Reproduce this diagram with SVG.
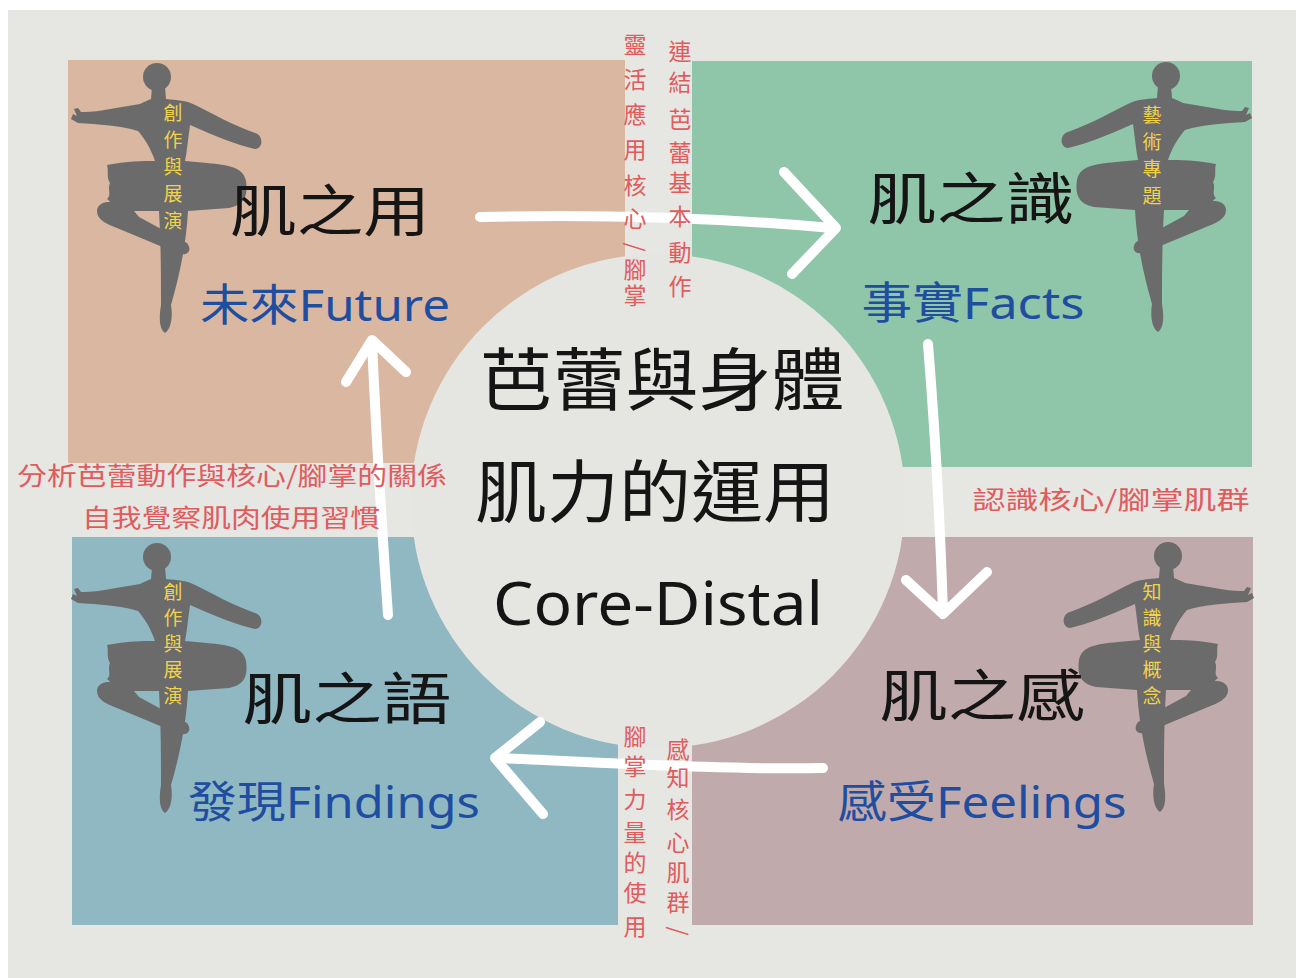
<svg xmlns="http://www.w3.org/2000/svg" xmlns:xlink="http://www.w3.org/1999/xlink" width="1296" height="978" viewBox="0 0 1296 978">
  <style>
    .title { font-family: "Noto Sans CJK TC", sans-serif; font-size: 56px; fill: #151515; text-anchor: middle; }
    .sub { font-family: "Noto Sans", "Noto Sans CJK TC", sans-serif; font-size: 44px; fill: #1f4ea0; text-anchor: middle; }
    .center { font-family: "Noto Sans CJK TC", sans-serif; font-size: 68px; fill: #151515; text-anchor: middle; }
    .latin { font-family: "Noto Sans", sans-serif; font-size: 60px; fill: #151515; text-anchor: middle; }
    .red { font-family: "Noto Sans CJK TC", sans-serif; font-size: 25px; fill: #e05b5e; text-anchor: middle; }
    .redv { font-family: "Noto Sans CJK TC", sans-serif; font-size: 23px; fill: #e05b5e; text-anchor: middle; }
    .yellow { font-family: "Noto Sans CJK TC", sans-serif; font-size: 19px; fill: #f1d34a; text-anchor: middle; }
    .arrow { fill: none; stroke: #ffffff; stroke-width: 10; stroke-linecap: round; stroke-linejoin: round; }
  </style>
  <defs>
    <!-- ballerina silhouette, facing right, origin at head centre -->
    <g id="dancer" fill="#6b6b6b">
      <ellipse cx="0" cy="0" rx="14" ry="14"/>
      <path d="M -8,10 L -9,22 C -20,23 -30,24 -36,27 C -55,36 -75,48 -98,56 C -106,58 -107,71 -98,72 C -80,68 -60,60 -33,48 C -31,62 -30,74 -28,84 L -50,86 C -72,88 -86,90 -89,104 C -91,118 -88,128 -72,131 L -31,134 C -29,170 -22,200 -14,228 C -16,240 -14,252 -8,256 C -2,252 -2,240 -4,228 C -4,200 -4,170 -2,134 L 38,134 C 46,130 44,126 50,122 C 45,118 50,112 47,106 C 51,100 48,94 50,88 C 30,84 14,84 2,84 C 6,72 12,62 19,54 C 34,49 60,47 79,46 L 86,42 L 84,37 L 80,39 L 83,32 L 79,31 L 76,35 C 62,36 38,30 17,27 C 13,25 9,23 6,22 L 5,10 Z"/>
      <path d="M 28,128 C 45,122 60,124 60,134 C 60,143 50,147 40,151 L -20,176 C -30,180 -36,174 -30,166 L 18,140 Z"/>
    </g>
  </defs>

  <!-- page -->
  <rect x="0" y="0" width="1296" height="978" fill="#ffffff"/>
  <rect x="8" y="10" width="1288" height="968" fill="#e6e6e2"/>

  <!-- quadrant panels -->
  <rect x="68" y="60" width="557" height="403" fill="#d9b7a0"/>
  <rect x="692" y="61" width="560" height="406" fill="#8fc5a9"/>
  <rect x="72" y="537" width="546" height="388" fill="#8fb8c3"/>
  <rect x="692" y="537" width="561" height="388" fill="#c1aaab"/>

  <!-- central disc -->
  <g id="core">
    <circle cx="658" cy="501" r="247" fill="#e5e5e1"/>
    <text class="center" x="662" y="405" textLength="365" lengthAdjust="spacingAndGlyphs">芭蕾與身體</text>
    <text class="center" x="655" y="517" textLength="360" lengthAdjust="spacingAndGlyphs">肌力的運用</text>
    <text class="latin" x="658" y="625" textLength="330" lengthAdjust="spacingAndGlyphs">Core-Distal</text>
  </g>

  <!-- quadrant nodes -->
  <g id="node-use">
    <use xlink:href="#dancer" href="#dancer" transform="translate(157,77) scale(-1,1)"/>
    <text class="yellow"><tspan x="173" y="120">創</tspan><tspan x="173" y="147">作</tspan><tspan x="173" y="174">與</tspan><tspan x="173" y="201">展</tspan><tspan x="173" y="228">演</tspan></text>
    <text class="title" x="330" y="231" textLength="200" lengthAdjust="spacingAndGlyphs">肌之用</text>
    <text class="sub" x="325" y="321" textLength="250" lengthAdjust="spacingAndGlyphs">未來Future</text>
  </g>

  <g id="node-know">
    <use xlink:href="#dancer" href="#dancer" transform="translate(1166,76)"/>
    <text class="yellow"><tspan x="1152" y="122">藝</tspan><tspan x="1152" y="149">術</tspan><tspan x="1152" y="176">專</tspan><tspan x="1152" y="203">題</tspan></text>
    <text class="title" x="971" y="219" textLength="207" lengthAdjust="spacingAndGlyphs">肌之識</text>
    <text class="sub" x="973" y="319" textLength="223" lengthAdjust="spacingAndGlyphs">事實Facts</text>
  </g>

  <g id="node-speak">
    <use xlink:href="#dancer" href="#dancer" transform="translate(157,557) scale(-1,1)"/>
    <text class="yellow"><tspan x="173" y="599">創</tspan><tspan x="173" y="625">作</tspan><tspan x="173" y="651">與</tspan><tspan x="173" y="677">展</tspan><tspan x="173" y="703">演</tspan></text>
    <text class="title" x="347" y="719" textLength="209" lengthAdjust="spacingAndGlyphs">肌之語</text>
    <text class="sub" x="334" y="818" textLength="292" lengthAdjust="spacingAndGlyphs">發現Findings</text>
  </g>

  <g id="node-feel">
    <use xlink:href="#dancer" href="#dancer" transform="translate(1168,556)"/>
    <text class="yellow"><tspan x="1152" y="599">知</tspan><tspan x="1152" y="625">識</tspan><tspan x="1152" y="651">與</tspan><tspan x="1152" y="677">概</tspan><tspan x="1152" y="703">念</tspan></text>
    <text class="title" x="982" y="716" textLength="205" lengthAdjust="spacingAndGlyphs">肌之感</text>
    <text class="sub" x="982" y="818" textLength="289" lengthAdjust="spacingAndGlyphs">感受Feelings</text>
  </g>

  <!-- connectors: hand-drawn white arrows -->
  <g id="connectors">
    <path class="arrow" d="M 480,217 C 600,214 720,218 832,228"/>
    <path class="arrow" d="M 784,172 L 836,228 L 792,274"/>
    <path class="arrow" d="M 928,344 C 935,430 940,520 943,612"/>
    <path class="arrow" d="M 906,580 L 943,614 L 987,572"/>
    <path class="arrow" d="M 823,768 C 720,770 600,762 497,758"/>
    <path class="arrow" d="M 540,722 L 495,758 L 543,814"/>
    <path class="arrow" d="M 388,615 C 382,530 376,430 372,342"/>
    <path class="arrow" d="M 346,382 L 372,340 L 406,372"/>
  </g>

  <!-- connector labels, vertical columns set one glyph per line -->
  <g id="labels">
    <text class="redv"><tspan x="635" y="53">靈</tspan><tspan x="635" y="88">活</tspan><tspan x="635" y="123">應</tspan><tspan x="635" y="158">用</tspan><tspan x="635" y="194">核</tspan><tspan x="635" y="227">心</tspan><tspan x="635" y="278">腳</tspan><tspan x="635" y="304">掌</tspan></text>
    <text class="redv" transform="rotate(90 635 247)" x="635" y="255">/</text>
    <text class="redv"><tspan x="680" y="60">連</tspan><tspan x="680" y="91">結</tspan><tspan x="680" y="128">芭</tspan><tspan x="680" y="161">蕾</tspan><tspan x="680" y="191">基</tspan><tspan x="680" y="225">本</tspan><tspan x="680" y="261">動</tspan><tspan x="680" y="295">作</tspan></text>

    <text class="redv"><tspan x="635" y="745">腳</tspan><tspan x="635" y="775">掌</tspan><tspan x="635" y="808">力</tspan><tspan x="635" y="841">量</tspan><tspan x="635" y="871">的</tspan><tspan x="635" y="901">使</tspan><tspan x="635" y="935">用</tspan></text>
    <text class="redv"><tspan x="678" y="758">感</tspan><tspan x="678" y="786">知</tspan><tspan x="678" y="818">核</tspan><tspan x="678" y="851">心</tspan><tspan x="678" y="881">肌</tspan><tspan x="678" y="911">群</tspan></text>
    <text class="redv" transform="rotate(90 678 931)" x="678" y="939">/</text>

    <text class="red" x="232" y="485" textLength="430" lengthAdjust="spacingAndGlyphs">分析芭蕾動作與核心/腳掌的關係</text>
    <text class="red" x="231" y="527" textLength="298" lengthAdjust="spacingAndGlyphs">自我覺察肌肉使用習慣</text>
    <text class="red" x="1111" y="509" textLength="277" lengthAdjust="spacingAndGlyphs">認識核心/腳掌肌群</text>
  </g>
</svg>
